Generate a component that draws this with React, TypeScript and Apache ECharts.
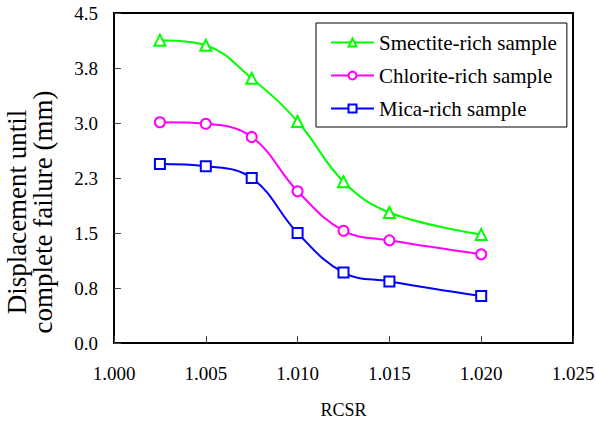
import React, { useEffect, useRef } from "react";
import * as echarts from "echarts";

const rcsr = [1.0025, 1.005, 1.0075, 1.01, 1.0125, 1.015, 1.02];
const smectite = [4.13, 4.06, 3.61, 3.02, 2.2, 1.78, 1.48];
const chlorite = [3.01, 2.99, 2.81, 2.07, 1.53, 1.4, 1.21];
const mica = [2.44, 2.41, 2.25, 1.5, 0.96, 0.84, 0.64];
const seriesNames = ["Smectite-rich sample", "Chlorite-rich sample", "Mica-rich sample"];
const xTickLabels = ["1.000", "1.005", "1.010", "1.015", "1.020", "1.025"];
const yTickLabels = ["0.0", "0.8", "1.5", "2.3", "3.0", "3.8", "4.5"];

const FONT = "Liberation Serif";

export default function App() {
  const ref = useRef<HTMLDivElement>(null);
  useEffect(() => {
    if (!ref.current) return;
    const chart = echarts.init(ref.current, undefined, { renderer: "svg" });
    const mk = (name: string, vals: number[], color: string, symbol: string, size: number) => ({
      name,
      type: "line",
      data: rcsr.map((x, i) => [x, vals[i]]),
      smooth: 0.4,
      symbol,
      symbolSize: size,
      showAllSymbol: true,
      lineStyle: { color, width: 2 },
      itemStyle: { color, borderColor: color, borderWidth: 1.8 },
      emphasis: { disabled: true },
    });
    chart.setOption({
      animation: false,
      backgroundColor: "#fff",
      textStyle: { fontFamily: FONT, color: "#000" },
      grid: {
        left: 114,
        top: 13,
        width: 459,
        height: 330,
        show: true,
        borderColor: "#000",
        borderWidth: 2,
        backgroundColor: "transparent",
        containLabel: false,
        outerBoundsMode: "none",
      },
      legend: {
        left: 316,
        top: 23,
        orient: "vertical",
        itemWidth: 43,
        itemHeight: 10,
        itemGap: 12,
        padding: [9, 10, 8, 14],
        borderColor: "#000",
        borderWidth: 1,
        textStyle: { fontFamily: FONT, fontSize: 21, color: "#000" },
        data: seriesNames,
      },
      xAxis: {
        type: "value",
        min: 1.0,
        max: 1.025,
        interval: 0.005,
        name: "RCSR",
        nameLocation: "middle",
        nameGap: 58,
        nameTextStyle: { fontFamily: FONT, fontSize: 18, color: "#000" },
        axisLine: { show: true, lineStyle: { color: "#000", width: 2 } },
        axisTick: { show: true, inside: true, length: 7, lineStyle: { color: "#444", width: 1 } },
        splitLine: { show: false },
        axisLabel: {
          margin: 21,
          fontFamily: FONT,
          fontSize: 19,
          color: "#000",
          formatter: (v: number) => xTickLabels[Math.round((v - 1.0) / 0.005)] ?? "",
        },
      },
      yAxis: {
        type: "value",
        min: 0,
        max: 4.5,
        interval: 0.75,
        axisLine: { show: true, lineStyle: { color: "#000", width: 2 } },
        axisTick: { show: true, inside: true, length: 7, lineStyle: { color: "#444", width: 1 } },
        splitLine: { show: false },
        axisLabel: {
          margin: 16,
          fontFamily: FONT,
          fontSize: 19,
          color: "#000",
          formatter: (v: number) => yTickLabels[Math.round(v / 0.75)] ?? "",
        },
      },
      graphic: [
        {
          type: "text",
          x: 30,
          y: 212,
          rotation: Math.PI / 2,
          style: {
            text: "Displacement until\ncomplete failure (mm)",
            fontFamily: FONT,
            fontSize: 27,
            lineHeight: 26,
            fill: "#000",
            align: "center",
            verticalAlign: "middle",
          },
        },
      ],
      series: [
        mk(seriesNames[0], smectite, "#00FF00", "emptyTriangle", 11),
        mk(seriesNames[1], chlorite, "#FF00FF", "emptyCircle", 10),
        mk(seriesNames[2], mica, "#0000FF", "emptyRect", 10),
      ],
    });
    return () => chart.dispose();
  }, []);
  return (
    <div
      ref={ref}
      style={{ position: "fixed", left: 0, top: 0, width: 596, height: 421, background: "#fff" }}
    />
  );
}
